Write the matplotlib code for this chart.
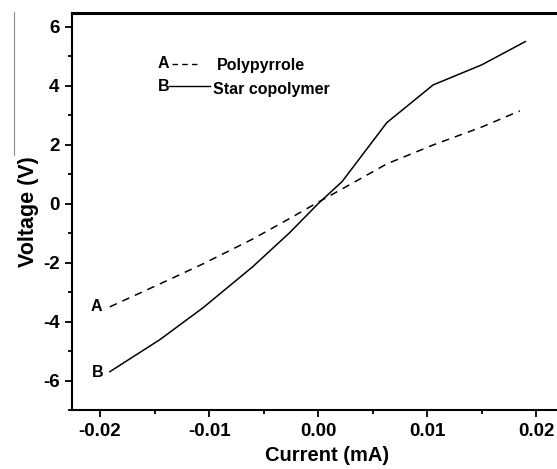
import numpy as np
import matplotlib.pyplot as plt
from matplotlib.lines import Line2D

plt.rcParams['font.family'] = ['Liberation Sans', 'DejaVu Sans']
plt.rcParams['font.weight'] = 'bold'
plt.rcParams['axes.unicode_minus'] = False

# current (mA) / voltage (V)
star_x = [-0.0191, -0.0145, -0.01055, -0.006, -0.0026, 0.0, 0.0022, 0.0063, 0.01055, 0.015, 0.019]
star_y = [-5.7, -4.61, -3.53, -2.14, -0.98, 0.0, 0.75, 2.75, 4.03, 4.71, 5.5]
ppy_x = [-0.0191, -0.0145, -0.0106, -0.006, -0.0026, 0.0, 0.0022, 0.0063, 0.0106, 0.015, 0.0185]
ppy_y = [-3.5, -2.72, -2.05, -1.2, -0.5, 0.05, 0.5, 1.35, 2.0, 2.6, 3.15]

fig = plt.figure(figsize=(5.57, 4.69), dpi=100)
# the original plot runs past the right edge of the scan
ax = fig.add_axes([72/557, 59/469, 510/557, 397/469])

ax.plot(ppy_x, ppy_y, color='black', lw=1.1, ls=(0, (5, 4)))
ax.plot(star_x, star_y, color='black', lw=1.1)

ax.text(-0.0198, -3.5, 'A', ha='right', va='center', fontsize=11.5)
ax.text(-0.0197, -5.72, 'B', ha='right', va='center', fontsize=11.5)

# legend-like annotation
tr = ax.transAxes
ax.text(0.168, 0.872, 'A', transform=tr, fontsize=11.5, va='center')
ax.add_line(Line2D([0.197, 0.252], [0.872, 0.872], transform=tr,
                   color='black', lw=1.0, ls=(0, (4, 3))))
ax.text(0.284, 0.869, 'Polypyrrole', transform=tr, fontsize=11.5, va='center')
ax.text(0.168, 0.815, 'B', transform=tr, fontsize=11.5, va='center')
ax.add_line(Line2D([0.19, 0.271], [0.816, 0.816], transform=tr,
                   color='black', lw=1.0))
ax.text(0.276, 0.808, 'Star copolymer', transform=tr, fontsize=11.5, va='center')

ax.set_xlim(-0.02257, 0.0242)
ax.set_ylim(-6.98, 6.47)
ax.set_xticks([-0.02, -0.01, 0.0, 0.01, 0.02])
ax.set_xticklabels(['-0.02', '-0.01', '0.00', '0.01', '0.02'])
ax.set_xticks(np.arange(-0.02, 0.021, 0.005), minor=True)
ax.set_yticks([-6, -4, -2, 0, 2, 4, 6])
ax.set_yticks(np.arange(-7, 7, 1), minor=True)

ax.tick_params(which='major', direction='out', length=5, width=1.3, labelsize=13.5, pad=4)
ax.tick_params(which='minor', direction='out', length=3, width=1.3)
ax.spines['right'].set_visible(False)
ax.spines['top'].set_linewidth(2.2)
ax.spines['left'].set_linewidth(1.5)
ax.spines['bottom'].set_linewidth(1.5)

ax.set_xlabel('Current (mA)', fontsize=14.5, fontweight='bold', labelpad=5)
ax.set_ylabel('Voltage (V)', fontsize=15.5, fontweight='bold', labelpad=3)

# thin stray rule at the left edge of the scan
fig.add_artist(Line2D([14/557, 14/557], [1 - 12/469, 1 - 155/469],
                      transform=fig.transFigure, color='#888888', lw=0.8))

fig.savefig('out.png', dpi=100)
